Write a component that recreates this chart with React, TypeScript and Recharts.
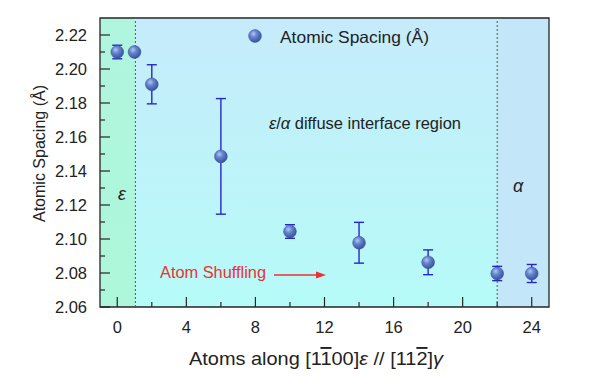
import React from 'react';
import {
  ComposedChart, Scatter, XAxis, YAxis, ErrorBar, ReferenceArea, ReferenceLine,
} from 'recharts';

const atomPos = [0, 1, 2, 6, 10, 14, 18, 22, 24];
const spacing = [2.2100, 2.2100, 2.1910, 2.1486, 2.1044, 2.0978, 2.0863, 2.0797, 2.0797];
const spacingErr = [0.0040, 0.0015, 0.0115, 0.0340, 0.0040, 0.0120, 0.0073, 0.0042, 0.0053];

const xTicks = [0, 2, 4, 6, 8, 10, 12, 14, 16, 18, 20, 22, 24];
const yTicks = [2.06, 2.07, 2.08, 2.09, 2.10, 2.11, 2.12, 2.13, 2.14, 2.15, 2.16, 2.17, 2.18, 2.19, 2.20, 2.21, 2.22];
const xDomain = [-1, 25];
const yDomain = [2.06, 2.23];
const epsBoundary = 1.05;
const alphaBoundary = 22;

const legendLabel = 'Atomic Spacing (Å)';
const regionLabel = 'diffuse interface region';
const shuffleLabel = 'Atom Shuffling';

const data = atomPos.map((x, i) => ({ x, y: spacing[i], err: spacingErr[i] }));

const FONT = '"Liberation Sans", Arial, sans-serif';
const AX = '#262626';

const XTick = (props: any) => {
  const { x, y, payload } = props;
  const v = payload.value;
  const major = v % 4 === 0;
  return (
    <g>
      <line x1={x} x2={x} y1={y} y2={y - (major ? 10 : 5)} stroke={AX} strokeWidth={1.2} />
      {major && (
        <text x={x} y={y + 26} textAnchor="middle" fontSize={16.5} fill="#222" fontFamily={FONT}>{v}</text>
      )}
    </g>
  );
};

const YTick = (props: any) => {
  const { x, y, payload } = props;
  const v = payload.value;
  const major = Math.round(v * 100) % 2 === 0;
  return (
    <g>
      <line x1={x} x2={x + (major ? 10 : 5)} y1={y} y2={y} stroke={AX} strokeWidth={1.2} />
      {major && (
        <text x={x - 13} y={y + 6} textAnchor="end" fontSize={16.5} fill="#222" fontFamily={FONT}>{v.toFixed(2)}</text>
      )}
    </g>
  );
};

const Sphere = (props: any) => {
  const { cx, cy } = props;
  return <circle cx={cx} cy={cy} r={6.4} fill="url(#sphereGrad)" stroke="#34508f" strokeWidth={0.5} />;
};

const Overlay = () => (
  <svg width={600} height={376} style={{ position: 'absolute', left: 0, top: 0, pointerEvents: 'none' }}>
    <defs>
      <radialGradient id="sphereGrad2" cx="38%" cy="33%" r="68%">
        <stop offset="0%" stopColor="#b2c6f0" />
        <stop offset="40%" stopColor="#6585cf" />
        <stop offset="100%" stopColor="#38539a" />
      </radialGradient>
    </defs>
    <g fontFamily={FONT}>
      <circle cx={255} cy={36} r={6.4} fill="url(#sphereGrad2)" stroke="#34508f" strokeWidth={0.5} />
      <text x={280} y={43} fontSize={16.5} fill="#222" textLength={149} lengthAdjust="spacingAndGlyphs">{legendLabel}</text>
      <text x={269} y={128.5} fontSize={16} fill="#222" textLength={192} lengthAdjust="spacingAndGlyphs">
        <tspan fontStyle="italic">ε</tspan>/<tspan fontStyle="italic">α</tspan> {regionLabel}
      </text>
      <text x={118} y={200} fontSize={18} fontStyle="italic" fill="#222">ε</text>
      <text x={513} y={192} fontSize={18} fontStyle="italic" fill="#222">α</text>
      <text x={160} y={278} fontSize={16.3} fill="#ee3030" textLength={106} lengthAdjust="spacingAndGlyphs">{shuffleLabel}</text>
      <line x1={274} y1={275} x2={318} y2={275} stroke="#ee3030" strokeWidth={1.3} />
      <path d="M326,275 L316,271.5 L316,278.5 Z" fill="#ee3030" />
      <text transform="translate(45,153.5) rotate(-90)" textAnchor="middle" fontSize={17} fill="#222" textLength={137} lengthAdjust="spacingAndGlyphs">{legendLabel}</text>
      <text x={189} y={365} fontSize={19} fill="#222" textLength={254} lengthAdjust="spacingAndGlyphs">
        Atoms along [1<tspan style={{ textDecoration: 'overline' }}>1</tspan>00]<tspan fontStyle="italic">ε</tspan> // [11<tspan style={{ textDecoration: 'overline' }}>2</tspan>]<tspan fontStyle="italic">γ</tspan>
      </text>
    </g>
  </svg>
);

export default function App() {
  return (
    <div style={{ position: 'absolute', left: 0, top: 0, width: 600, height: 376, background: '#fff' }}>
      <ComposedChart width={600} height={376} data={data} margin={{ top: 18, right: 51, bottom: 29, left: 40 }}>
        <defs>
          <linearGradient id="midGrad" x1="0" y1="0" x2="0" y2="1">
            <stop offset="0%" stopColor="#c6ebfb" />
            <stop offset="100%" stopColor="#b6fbf8" />
          </linearGradient>
          <linearGradient id="epsGrad" x1="0" y1="0" x2="0" y2="1">
            <stop offset="0%" stopColor="#b0f5de" />
            <stop offset="100%" stopColor="#adf7da" />
          </linearGradient>
          <radialGradient id="sphereGrad" cx="38%" cy="33%" r="68%">
            <stop offset="0%" stopColor="#b2c6f0" />
            <stop offset="40%" stopColor="#6585cf" />
            <stop offset="100%" stopColor="#38539a" />
          </radialGradient>
        </defs>
        <XAxis
          type="number"
          dataKey="x"
          domain={xDomain}
          ticks={xTicks}
          interval={0}
          height={40}
          tickSize={0}
          tickMargin={0}
          tick={<XTick />}
          axisLine={false}
          allowDataOverflow
        />
        <YAxis
          type="number"
          dataKey="y"
          domain={yDomain}
          ticks={yTicks}
          interval={0}
          width={60}
          tickSize={0}
          tickMargin={0}
          tick={<YTick />}
          axisLine={false}
          allowDataOverflow
        />
        <ReferenceArea x1={xDomain[0]} x2={epsBoundary} y1={yDomain[0]} y2={yDomain[1]} fill="url(#epsGrad)" fillOpacity={1} stroke="none" ifOverflow="visible" />
        <ReferenceArea x1={epsBoundary} x2={alphaBoundary} y1={yDomain[0]} y2={yDomain[1]} fill="url(#midGrad)" fillOpacity={1} stroke="none" ifOverflow="visible" />
        <ReferenceArea x1={alphaBoundary} x2={xDomain[1]} y1={yDomain[0]} y2={yDomain[1]} fill="#c3e6f9" fillOpacity={1} stroke="none" ifOverflow="visible" />
        <ReferenceLine x={epsBoundary} stroke="#555" strokeDasharray="2 2" strokeWidth={1} />
        <ReferenceLine x={alphaBoundary} stroke="#555" strokeDasharray="2 2" strokeWidth={1} />
        <ReferenceArea x1={xDomain[0]} x2={xDomain[1]} y1={yDomain[0]} y2={yDomain[1]} fill="none" stroke={AX} strokeWidth={1.3} ifOverflow="visible" />
        <Scatter dataKey="y" shape={<Sphere />} isAnimationActive={false}>
          <ErrorBar dataKey="err" direction="y" width={5} stroke="#2626cc" strokeWidth={1.4} />
        </Scatter>
      </ComposedChart>
      <Overlay />
    </div>
  );
}
